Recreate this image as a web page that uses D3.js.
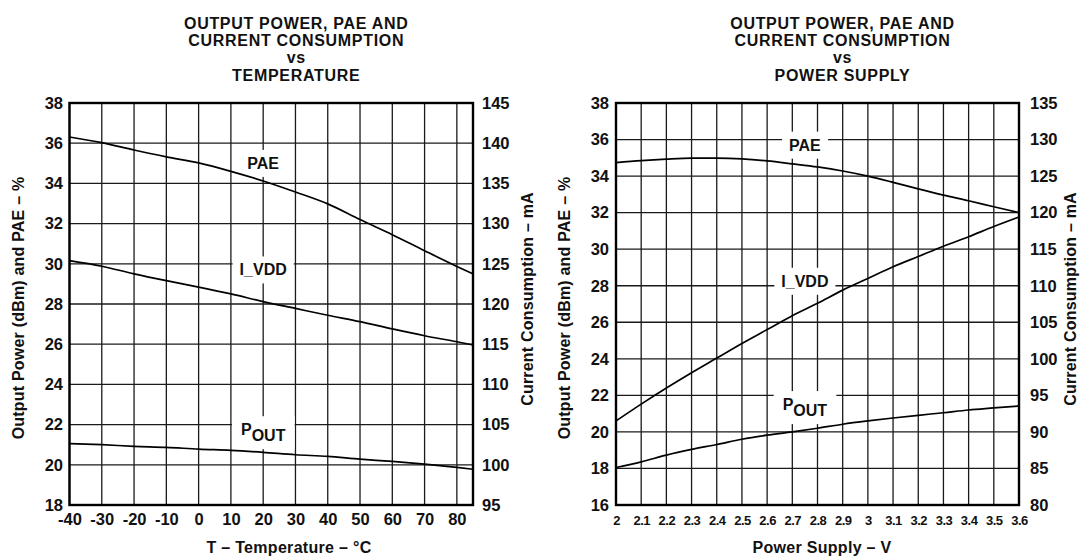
<!DOCTYPE html>
<html>
<head>
<meta charset="utf-8">
<script src="https://cdn.jsdelivr.net/npm/d3@7"></script>
<style>
  body { margin: 0; background: #fff; }
  text { font-family: "Liberation Sans", Arial, sans-serif; font-weight: bold; fill: #111; }
</style>
</head>
<body>
<div class="canvas"></div>
<script>
// temperature sweep
const tempC = [-40, -30, -20, -10, 0, 10, 20, 30, 40, 50, 60, 70, 80, 85];
const tempPae = [36.31, 36.03, 35.66, 35.32, 35.02, 34.6, 34.12, 33.57, 32.98, 32.2, 31.45, 30.65, 29.87, 29.5];
const tempIvdd = [125.4, 124.7, 123.75, 122.9, 122.1, 121.25, 120.3, 119.45, 118.6, 117.8, 116.9, 116.05, 115.3, 114.9];
const tempPout = [21.05, 21.0, 20.92, 20.87, 20.78, 20.72, 20.62, 20.5, 20.42, 20.28, 20.17, 20.03, 19.87, 19.78];

// power supply sweep
const supplyV = [2.0, 2.1, 2.2, 2.3, 2.4, 2.5, 2.6, 2.7, 2.8, 2.9, 3.0, 3.1, 3.2, 3.3, 3.4, 3.5, 3.6];
const supplyPae = [34.74, 34.85, 34.93, 34.98, 34.98, 34.94, 34.83, 34.67, 34.5, 34.28, 34.0, 33.66, 33.3, 32.96, 32.65, 32.32, 32.0];
const supplyIvdd = [91.5, 93.8, 96.0, 98.1, 100.1, 102.1, 104.0, 105.9, 107.6, 109.4, 111.0, 112.6, 114.0, 115.4, 116.7, 118.1, 119.4];
const supplyPout = [18.05, 18.36, 18.73, 19.04, 19.31, 19.6, 19.82, 20.0, 20.2, 20.42, 20.6, 20.76, 20.91, 21.05, 21.2, 21.31, 21.42];

// ticks
const tempTicks = [-40, -30, -20, -10, 0, 10, 20, 30, 40, 50, 60, 70, 80];
const supplyTicks = [2.0, 2.1, 2.2, 2.3, 2.4, 2.5, 2.6, 2.7, 2.8, 2.9, 3.0, 3.1, 3.2, 3.3, 3.4, 3.5, 3.6];
const tempLeftTicks = [18, 20, 22, 24, 26, 28, 30, 32, 34, 36, 38];
const tempRightTicks = [95, 100, 105, 110, 115, 120, 125, 130, 135, 140, 145];
const supplyLeftTicks = [16, 18, 20, 22, 24, 26, 28, 30, 32, 34, 36, 38];
const supplyRightTicks = [80, 85, 90, 95, 100, 105, 110, 115, 120, 125, 130, 135];

const width = 1081, height = 556;
const svg = d3.select('.canvas').append('svg')
    .attr('width', width)
    .attr('height', height);

const top_ = 103, bottom = 505;

drawChart({
    left: 69.5, right: 473,
    xs: tempC, xDomain: [-40, 85], xTicks: tempTicks, xFont: 16.5, xPad: 8.5, xSpacing: 0,
    yDomain: [18, 38], yTicks: tempLeftTicks, yPad: 6.5, y2Pad: 9,
    y2Domain: [95, 145], y2Ticks: tempRightTicks,
    pae: tempPae, ivdd: tempIvdd, pout: tempPout,
    title: ['OUTPUT POWER, PAE AND', 'CURRENT CONSUMPTION', 'vs', 'TEMPERATURE'],
    xLabel: 'T \u2013 Temperature \u2013 \u00B0C', xLabelX: 289,
    labelX: 20, labelY: [35.0, 29.7, 21.75],
    yLabelX: 18, y2LabelX: 527
});

drawChart({
    left: 616, right: 1019,
    xs: supplyV, xDomain: [2, 3.6], xTicks: supplyTicks, xFont: 13, xPad: 11, xSpacing: -0.5,
    yDomain: [16, 38], yTicks: supplyLeftTicks, yPad: 7, y2Pad: 11,
    y2Domain: [80, 135], y2Ticks: supplyRightTicks,
    pae: supplyPae, ivdd: supplyIvdd, pout: supplyPout,
    title: ['OUTPUT POWER, PAE AND', 'CURRENT CONSUMPTION', 'vs', 'POWER SUPPLY'],
    xLabel: 'Power Supply \u2013 V', xLabelX: 822,
    labelX: 2.75, labelY: [35.7, 28.25, 21.5],
    yLabelX: 564, y2LabelX: 1070
});

function drawChart(o) {
    const g = svg.append('g');
    const x = d3.scaleLinear().domain(o.xDomain).range([o.left, o.right]);
    const y = d3.scaleLinear().domain(o.yDomain).range([bottom, top_]);
    const y2 = d3.scaleLinear().domain(o.y2Domain).range([bottom, top_]);

    // grid
    g.selectAll('.vgrid').data(o.xTicks).join('line')
        .attr('x1', d => x(d)).attr('x2', d => x(d))
        .attr('y1', top_).attr('y2', bottom)
        .attr('stroke', '#1a1a1a').attr('stroke-width', 1.3);
    g.selectAll('.hgrid').data(o.yTicks).join('line')
        .attr('x1', o.left).attr('x2', o.right)
        .attr('y1', d => y(d)).attr('y2', d => y(d))
        .attr('stroke', '#1a1a1a').attr('stroke-width', 1.3);

    // curve labels (white boxes break the grid)
    const names = ['PAE', 'I_VDD', 'P'];
    const boxes = g.append('g');
    const labels = g.append('g');
    names.forEach((n, i) => {
        const t = labels.append('text')
            .attr('x', x(o.labelX))
            .attr('y', y(o.labelY[i]))
            .attr('text-anchor', 'middle')
            .attr('dy', '0.35em')
            .attr('font-size', 16);
        t.append('tspan').text(n);
        if (n === 'P') t.append('tspan').attr('dy', 6).text('OUT');
        const b = t.node().getBBox();
        const padX = n === 'P' ? 9 : 7;
        boxes.append('rect')
            .attr('x', b.x - padX).attr('y', b.y - 5)
            .attr('width', b.width + padX * 2).attr('height', b.height + 10)
            .attr('fill', '#fff');
    });

    // frame
    g.append('rect')
        .attr('x', o.left).attr('y', top_)
        .attr('width', o.right - o.left).attr('height', bottom - top_)
        .attr('fill', 'none').attr('stroke', '#000').attr('stroke-width', 2.4);

    // curves
    const line = d3.line().curve(d3.curveMonotoneX);
    const series = [
        o.xs.map((d, i) => [x(d), y(o.pae[i])]),
        o.xs.map((d, i) => [x(d), y2(o.ivdd[i])]),
        o.xs.map((d, i) => [x(d), y(o.pout[i])])
    ];
    g.selectAll('.curve').data(series).join('path')
        .attr('d', line)
        .attr('fill', 'none')
        .attr('stroke', '#000')
        .attr('stroke-width', 1.7);

    labels.raise();

    // axes
    const ax = g.append('g')
        .attr('transform', `translate(0,${bottom})`)
        .call(d3.axisBottom(x).tickValues(o.xTicks).tickSize(0).tickPadding(o.xPad).tickFormat(d => String(d)));
    ax.selectAll('text').attr('font-size', o.xFont).attr('fill', '#111').attr('letter-spacing', o.xSpacing);

    const ayl = g.append('g')
        .attr('transform', `translate(${o.left},0)`)
        .call(d3.axisLeft(y).tickValues(o.yTicks).tickSize(0).tickPadding(o.yPad));
    ayl.selectAll('text').attr('font-size', 16.5).attr('fill', '#111');

    const ayr = g.append('g')
        .attr('transform', `translate(${o.right},0)`)
        .call(d3.axisRight(y2).tickValues(o.y2Ticks).tickSize(0).tickPadding(o.y2Pad));
    ayr.selectAll('text').attr('font-size', 16.5).attr('fill', '#111');

    g.selectAll('.domain').remove();

    // titles
    const cx = (o.left + o.right) / 2 + 25;
    const ty = [29, 46, 63, 81];
    o.title.forEach((t, i) => {
        g.append('text')
            .attr('x', cx).attr('y', ty[i])
            .attr('text-anchor', 'middle')
            .attr('font-size', 16)
            .attr('letter-spacing', 0.7)
            .text(t);
    });

    g.append('text')
        .attr('x', o.xLabelX).attr('y', 553)
        .attr('text-anchor', 'middle')
        .attr('font-size', 16)
        .attr('letter-spacing', 0.3)
        .text(o.xLabel);

    g.append('text')
        .attr('transform', `translate(${o.yLabelX},308) rotate(-90)`)
        .attr('text-anchor', 'middle')
        .attr('dy', '0.35em')
        .attr('font-size', 16)
        .attr('letter-spacing', 0.2)
        .text('Output Power (dBm) and PAE \u2013 %');

    g.append('text')
        .attr('transform', `translate(${o.y2LabelX},299) rotate(-90)`)
        .attr('text-anchor', 'middle')
        .attr('dy', '0.35em')
        .attr('font-size', 16)
        .attr('letter-spacing', 0.2)
        .text('Current Consumption \u2013 mA');
}
</script>
</body>
</html>
